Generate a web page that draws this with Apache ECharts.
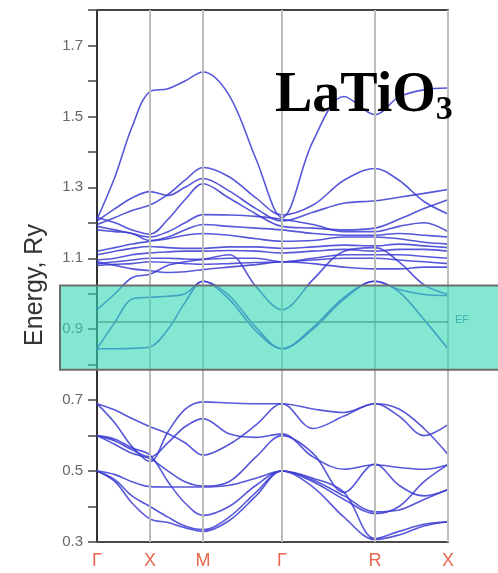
<!DOCTYPE html>
<html><head><meta charset="utf-8">
<script src="https://cdn.jsdelivr.net/npm/echarts@6/dist/echarts.min.js"></script>
<style>html,body{margin:0;padding:0;background:#fff}#c{width:498px;height:573px}</style>
</head><body><div id="c"></div>
<script>
// k-path sample positions (path length units) and high-symmetry points
const kGrid = [0, 18, 35, 53, 71, 88, 106, 132, 159, 185, 216, 247, 278, 302, 327, 351];
const kTicks = [0, 53, 106, 185, 278, 351];
const kLabels = ['Γ', 'X', 'M', 'Γ', 'R', 'X'];
const yLabelValues = [0.3, 0.5, 0.7, 0.9, 1.1, 1.3, 1.5, 1.7];
const fermiLevel = 0.922;
const windowTop = 1.023;
const windowBottom = 0.786;

// upper conduction band
const bandT1 = [1.21, 1.33, 1.47, 1.57, 1.578, 1.60, 1.625, 1.56, 1.38, 1.215, 1.43, 1.556, 1.505, 1.555, 1.575, 1.58];
// conduction cluster
const bandC1 = [1.195, 1.215, 1.235, 1.25, 1.28, 1.32, 1.356, 1.33, 1.27, 1.222, 1.25, 1.32, 1.353, 1.32, 1.26, 1.225];
const bandC2 = [1.205, 1.24, 1.27, 1.288, 1.277, 1.30, 1.325, 1.29, 1.24, 1.205, 1.23, 1.255, 1.262, 1.272, 1.283, 1.294];
const bandC3 = [1.215, 1.20, 1.18, 1.168, 1.21, 1.265, 1.31, 1.27, 1.225, 1.19, 1.185, 1.18, 1.185, 1.21, 1.24, 1.265];
const bandC4 = [1.19, 1.18, 1.17, 1.16, 1.175, 1.20, 1.223, 1.222, 1.218, 1.21, 1.195, 1.175, 1.175, 1.19, 1.20, 1.175];
const bandC5 = [1.18, 1.175, 1.17, 1.15, 1.16, 1.18, 1.195, 1.19, 1.185, 1.18, 1.17, 1.165, 1.165, 1.17, 1.165, 1.16];
const bandC6 = [1.12, 1.13, 1.14, 1.148, 1.155, 1.165, 1.17, 1.165, 1.155, 1.148, 1.15, 1.16, 1.16, 1.155, 1.145, 1.14];
const bandC7 = [1.11, 1.12, 1.128, 1.133, 1.13, 1.128, 1.128, 1.132, 1.132, 1.128, 1.132, 1.137, 1.135, 1.14, 1.135, 1.13];
const bandC8 = [1.095, 1.10, 1.11, 1.115, 1.118, 1.12, 1.12, 1.122, 1.12, 1.115, 1.12, 1.125, 1.12, 1.125, 1.125, 1.12];
const bandC9 = [1.085, 1.09, 1.095, 1.10, 1.10, 1.098, 1.097, 1.10, 1.10, 1.09, 1.10, 1.11, 1.11, 1.11, 1.105, 1.10];
const bandC10 = [1.08, 1.083, 1.085, 1.09, 1.088, 1.085, 1.083, 1.085, 1.088, 1.09, 1.095, 1.10, 1.10, 1.095, 1.09, 1.085];
const bandC11 = [1.09, 1.08, 1.07, 1.065, 1.06, 1.062, 1.068, 1.075, 1.082, 1.09, 1.085, 1.075, 1.07, 1.07, 1.075, 1.075];
// t2g bands near the Fermi level
const bandTA = [0.955, 1.00, 1.045, 1.055, 1.08, 1.09, 1.097, 1.11, 1.02, 0.955, 1.04, 1.12, 1.13, 1.09, 1.025, 0.998];
const bandTB = [0.845, 0.92, 0.985, 0.99, 0.993, 1.0, 1.035, 0.995, 0.905, 0.845, 0.905, 0.99, 1.035, 1.012, 0.998, 0.995];
const bandTC = [0.845, 0.845, 0.846, 0.85, 0.90, 0.975, 1.035, 0.985, 0.895, 0.845, 0.90, 0.985, 1.035, 1.005, 0.927, 0.845];
// valence bands
const bandV1 = [0.69, 0.635, 0.569, 0.527, 0.611, 0.674, 0.695, 0.692, 0.69, 0.69, 0.675, 0.665, 0.69, 0.675, 0.62, 0.547];
const bandV2 = [0.69, 0.672, 0.648, 0.625, 0.605, 0.58, 0.545, 0.575, 0.63, 0.69, 0.62, 0.655, 0.69, 0.655, 0.60, 0.631];
const bandV3 = [0.60, 0.585, 0.56, 0.54, 0.58, 0.625, 0.648, 0.605, 0.595, 0.605, 0.54, 0.505, 0.518, 0.51, 0.505, 0.518];
const bandV4 = [0.60, 0.575, 0.55, 0.535, 0.50, 0.47, 0.458, 0.47, 0.54, 0.60, 0.55, 0.44, 0.52, 0.46, 0.43, 0.448];
const bandV5 = [0.50, 0.49, 0.47, 0.456, 0.455, 0.455, 0.455, 0.46, 0.48, 0.50, 0.475, 0.43, 0.385, 0.39, 0.42, 0.448];
const bandV6 = [0.50, 0.47, 0.41, 0.365, 0.355, 0.34, 0.33, 0.36, 0.43, 0.50, 0.455, 0.37, 0.307, 0.32, 0.345, 0.357];
const bandV7 = [0.50, 0.475, 0.43, 0.40, 0.37, 0.345, 0.335, 0.37, 0.44, 0.50, 0.47, 0.42, 0.38, 0.40, 0.47, 0.518];
const bandV8 = [0.60, 0.59, 0.565, 0.545, 0.47, 0.41, 0.375, 0.40, 0.46, 0.50, 0.48, 0.44, 0.31, 0.33, 0.35, 0.357];

const bands = [bandT1, bandC1, bandC2, bandC3, bandC4, bandC5, bandC6, bandC7, bandC8, bandC9, bandC10, bandC11,
  bandTA, bandTB, bandTC, bandV1, bandV2, bandV3, bandV4, bandV5, bandV6, bandV7, bandV8];

const chart = echarts.init(document.getElementById('c'));
const bandColor = '#3a3ad2';

const series = [{
  type: 'line', data: [], z: 1, silent: true,
  markLine: {
    symbol: 'none', silent: true, animation: false,
    label: { show: false },
    data: kTicks.slice(1).map(v => ({ xAxis: v, lineStyle: { color: '#bcbcbc', width: 2, type: 'solid' } }))
      .concat([{ yAxis: fermiLevel, lineStyle: { color: '#6f6f6f', width: 1.5, type: 'solid' } }])
  }
}].concat(bands.map(b => ({
  type: 'line',
  data: kGrid.map((k, i) => [k, b[i]]),
  smooth: 0.35,
  symbol: 'none',
  silent: true,
  z: 2,
  lineStyle: { color: bandColor, width: 1.6, opacity: 0.85 }
})));

chart.setOption({
  animation: false,
  backgroundColor: '#fff',
  grid: { left: 97, top: 10, right: 50, bottom: 31 },
  title: {
    text: '{a|LaTiO}{b|3}',
    left: 270, top: 62,
    textStyle: {
      rich: {
        a: { fontFamily: 'Liberation Serif', fontWeight: 'bold', fontSize: 56, color: '#000', lineHeight: 60 },
        b: { fontFamily: 'Liberation Serif', fontWeight: 'bold', fontSize: 34, color: '#000', lineHeight: 34, verticalAlign: 'bottom' }
      }
    },
    z: 8
  },
  xAxis: [{
    type: 'value', min: 0, max: 351,
    axisLine: { show: true, lineStyle: { color: '#4a4a4a', width: 2 } },
    axisTick: { show: false },
    splitLine: { show: false },
    axisLabel: {
      customValues: kTicks,
      formatter: function (v) {
        let best = 0;
        kTicks.forEach((t, i) => { if (Math.abs(t - v) < Math.abs(kTicks[best] - v)) best = i; });
        return kLabels[best];
      },
      color: '#e5674f', fontSize: 18, fontFamily: 'Liberation Sans', margin: 10
    }
  }, {
    type: 'value', min: 0, max: 351, position: 'top',
    axisLine: { show: true, lineStyle: { color: '#444', width: 2 } },
    axisTick: { show: false }, axisLabel: { show: false }, splitLine: { show: false }
  }],
  yAxis: {
    type: 'value', min: 0.3, max: 1.8, interval: 0.1,
    name: 'Energy, Ry', nameLocation: 'middle', nameGap: 49,
    nameTextStyle: { fontSize: 25, color: '#333', fontFamily: 'Liberation Sans', padding: [0, 18, 0, 0] },
    axisLine: { show: true, lineStyle: { color: '#333', width: 2 } },
    axisTick: { show: true, length: 9, lineStyle: { color: '#444', width: 1.5 } },
    splitLine: { show: false },
    axisLabel: {
      formatter: function (v) {
        const hit = yLabelValues.find(t => Math.abs(t - v) < 1e-6);
        return hit === undefined ? '' : hit.toFixed(1);
      },
      color: '#666', fontSize: 15, fontFamily: 'Liberation Sans', margin: 14
    }
  },
  series: series
});

const yTopPx = chart.convertToPixel({ yAxisIndex: 0 }, windowTop);
const yBotPx = chart.convertToPixel({ yAxisIndex: 0 }, windowBottom);
const yEfPx = chart.convertToPixel({ yAxisIndex: 0 }, fermiLevel);
const xEndPx = chart.convertToPixel({ xAxisIndex: 0 }, kTicks[kTicks.length - 1]);

chart.setOption({
  graphic: [
    {
      type: 'text', x: xEndPx + 7, y: yEfPx - 7, z: 10,
      style: { text: 'EF', fill: '#4f76b0', fontSize: 11, fontFamily: 'Liberation Sans' }
    },
    {
      type: 'rect', z: 50, silent: true,
      shape: { x: 60, y: yTopPx, width: 460, height: yBotPx - yTopPx },
      style: { fill: 'rgba(50,215,180,0.6)', stroke: '#6e6e6e', lineWidth: 2 }
    }
  ]
});
</script></body></html>
